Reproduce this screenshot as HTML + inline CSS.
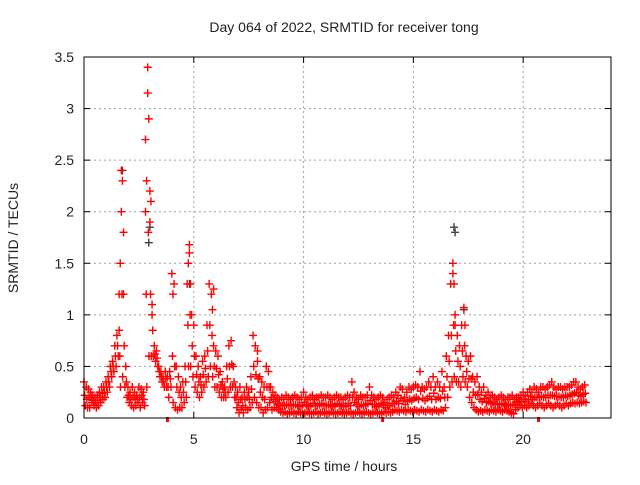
<!DOCTYPE html>
<html><head><meta charset="utf-8"><style>
body{margin:0;background:#fff;font-family:"Liberation Sans",sans-serif}
svg text{font-family:"Liberation Sans",sans-serif;font-size:14px;fill:#222}
</style></head><body>
<svg id="c" width="640" height="480">
<text x="344" y="32" text-anchor="middle">Day 064 of 2022, SRMTID for receiver tong</text>
<text x="344" y="471" text-anchor="middle">GPS time / hours</text>
<text transform="translate(18,238) rotate(-90)" text-anchor="middle">SRMTID / TECUs</text>
<g id="grid"></g><g id="marks"></g><g id="axes"></g>
</svg>
<script>
const xTicks=[0,5,10,15,20];
const yTicks=[0,0.5,1,1.5,2,2.5,3,3.5];
const yTickLabels=["0","0.5","1","1.5","2","2.5","3","3.5"];
const t0=0, dt=0.1;
const hiVals=[0.35,0.3,0.28,0.25,0.22,0.2,0.22,0.25,0.3,0.3,
0.35,0.4,0.5,0.55,0.7,0.8,0.85,2.4,1.2,0.5,
0.3,0.25,0.3,0.25,0.22,0.3,0.28,0.25,2.7,3.4,
2.2,1.1,0.7,0.65,0.5,0.45,0.4,0.45,0.4,0.45,
1.4,1.3,0.5,0.4,0.3,0.35,0.5,1.3,1.68,1.0,
0.9,0.6,0.5,0.4,0.55,0.6,0.9,1.3,1.2,0.7,
0.65,0.6,0.45,0.35,0.3,0.5,0.7,0.75,0.5,0.3,
0.25,0.3,0.2,0.25,0.3,0.25,0.4,0.8,0.7,0.65,
0.4,0.35,0.3,0.5,0.45,0.3,0.25,0.22,0.2,0.18,
0.2,0.18,0.22,0.2,0.18,0.2,0.22,0.2,0.18,0.2,
0.25,0.2,0.18,0.2,0.22,0.18,0.2,0.2,0.22,0.2,
0.2,0.22,0.2,0.18,0.2,0.22,0.2,0.2,0.18,0.2,
0.22,0.2,0.35,0.25,0.2,0.18,0.22,0.2,0.2,0.22,
0.3,0.22,0.2,0.18,0.2,0.22,0.2,0.15,0.18,0.2,
0.22,0.2,0.25,0.22,0.3,0.28,0.2,0.25,0.3,0.28,
0.3,0.32,0.3,0.45,0.3,0.28,0.3,0.35,0.3,0.4,
0.3,0.35,0.3,0.45,0.3,0.6,0.8,1.3,1.5,1.0,
0.8,0.7,0.9,1.07,0.6,0.55,0.6,0.4,0.35,0.4,
0.3,0.25,0.3,0.22,0.25,0.2,0.22,0.2,0.18,0.2,
0.22,0.2,0.18,0.2,0.2,0.22,0.18,0.2,0.2,0.22,
0.25,0.22,0.25,0.28,0.25,0.3,0.28,0.25,0.3,0.3,
0.28,0.3,0.32,0.35,0.3,0.28,0.3,0.3,0.28,0.3,
0.3,0.3,0.32,0.35,0.35,0.3,0.28,0.3,0.32];
const midVals=[0.22,0.18,0.2,0.2,0.17,0.15,0.17,0.2,0.24,0.25,
0.3,0.35,0.45,0.5,0.6,0.7,0.6,1.2,0.7,0.35,
0.22,0.18,0.2,0.18,0.18,0.2,0.22,0.18,1.2,1.8,
1.2,0.85,0.62,0.58,0.45,0.4,0.35,0.38,0.3,0.38,
0.6,0.5,0.3,0.25,0.2,0.25,0.35,0.9,1.0,0.7,
0.6,0.42,0.35,0.32,0.42,0.48,0.65,0.9,0.8,0.5,
0.48,0.42,0.32,0.28,0.25,0.38,0.5,0.52,0.35,0.2,
0.15,0.18,0.12,0.18,0.2,0.18,0.28,0.5,0.42,0.38,
0.25,0.2,0.18,0.3,0.3,0.2,0.18,0.16,0.14,0.12,
0.12,0.12,0.13,0.12,0.12,0.13,0.13,0.12,0.11,0.12,
0.15,0.13,0.11,0.12,0.14,0.12,0.12,0.13,0.14,0.12,
0.12,0.13,0.13,0.11,0.12,0.14,0.13,0.12,0.11,0.12,
0.14,0.12,0.2,0.15,0.13,0.11,0.13,0.12,0.13,0.14,
0.17,0.13,0.13,0.11,0.12,0.14,0.13,0.1,0.12,0.12,
0.14,0.14,0.16,0.14,0.19,0.17,0.13,0.16,0.18,0.17,
0.19,0.2,0.18,0.26,0.19,0.17,0.19,0.21,0.18,0.24,
0.18,0.2,0.19,0.26,0.2,0.4,0.55,0.8,0.9,0.65,
0.55,0.5,0.65,0.7,0.45,0.38,0.38,0.25,0.22,0.23,
0.18,0.16,0.19,0.15,0.16,0.14,0.15,0.13,0.13,0.13,
0.14,0.14,0.12,0.13,0.12,0.13,0.13,0.15,0.16,0.16,
0.18,0.16,0.18,0.21,0.18,0.2,0.2,0.2,0.21,0.2,
0.2,0.22,0.22,0.22,0.21,0.21,0.21,0.2,0.2,0.22,
0.21,0.22,0.23,0.24,0.25,0.22,0.21,0.23,0.24];
const loVals=[0.12,0.1,0.1,0.15,0.12,0.1,0.12,0.15,0.18,0.2,
0.25,0.3,0.4,0.45,0.5,0.6,0.3,0.4,0.3,0.2,
0.15,0.12,0.1,0.12,0.15,0.1,0.15,0.12,0.3,0.6,
0.6,0.6,0.55,0.5,0.4,0.35,0.3,0.3,0.2,0.3,
0.15,0.1,0.08,0.1,0.1,0.15,0.2,0.5,0.5,0.4,
0.3,0.25,0.2,0.25,0.3,0.35,0.4,0.5,0.4,0.3,
0.3,0.25,0.2,0.2,0.2,0.25,0.3,0.3,0.2,0.1,
0.05,0.08,0.05,0.1,0.08,0.1,0.15,0.2,0.15,0.1,
0.1,0.05,0.08,0.1,0.15,0.08,0.1,0.1,0.08,0.06,
0.05,0.06,0.04,0.05,0.06,0.05,0.04,0.06,0.05,0.04,
0.05,0.06,0.05,0.04,0.05,0.06,0.04,0.05,0.06,0.05,
0.04,0.05,0.06,0.05,0.04,0.05,0.06,0.05,0.04,0.05,
0.06,0.05,0.04,0.05,0.06,0.05,0.04,0.05,0.06,0.05,
0.04,0.05,0.06,0.05,0.04,0.05,0.06,0.05,0.06,0.05,
0.06,0.08,0.07,0.06,0.08,0.07,0.06,0.08,0.07,0.06,
0.08,0.07,0.06,0.08,0.07,0.06,0.08,0.07,0.06,0.08,
0.07,0.06,0.08,0.07,0.1,0.2,0.3,0.35,0.4,0.35,
0.35,0.3,0.4,0.35,0.3,0.2,0.15,0.1,0.08,0.06,
0.07,0.06,0.08,0.07,0.06,0.08,0.07,0.06,0.08,0.07,
0.06,0.08,0.07,0.06,0.05,0.04,0.08,0.1,0.12,0.1,
0.12,0.1,0.12,0.14,0.12,0.1,0.12,0.14,0.12,0.1,
0.12,0.14,0.12,0.1,0.12,0.14,0.12,0.1,0.12,0.14,
0.12,0.14,0.15,0.14,0.15,0.14,0.15,0.16,0.15];
const spikeT=[1.65,1.7,1.75,1.8,2.85,2.9,2.95,3.0,3.05,4.05,4.75,4.8,4.85,5.85,5.9,7.9,16.8,16.85,16.9,17.35,1.6,2.8,3.1];
const spikeV=[1.5,2.0,2.3,1.8,2.3,3.15,2.9,1.9,2.1,1.2,1.5,1.6,1.3,1.05,1.25,0.55,1.4,1.3,0.9,0.9,1.2,2.0,1.0];
const greyT=[1.75,2.95,3.0,4.8,16.85,16.9,17.3];
const greyV=[2.4,1.7,1.85,1.3,1.85,1.8,1.05];
const markerT=[3.8,13.6,20.7];
const X0=84,X1=611,Y0=418,Y1=57;
const sx=t=>X0+(t-0)/(24-0)*(X1-X0);
const sy=v=>Y0-(v-0)/(3.5-0)*(Y0-Y1);
const NS="http://www.w3.org/2000/svg";
function mk(tag,par,at){const e=document.createElementNS(NS,tag);for(const k in at)e.setAttribute(k,at[k]);par.appendChild(e);return e;}
const grid=document.getElementById('grid'),marks=document.getElementById('marks'),axes=document.getElementById('axes');
xTicks.forEach((t,i)=>{
 if(t>0){const g=mk('line',grid,{x1:sx(t),x2:sx(t),y1:Y0,y2:Y1,stroke:'#a0a0a0','stroke-dasharray':'2,3'});
 
 }
 const tk=mk('line',axes,{x1:sx(t),x2:sx(t),y1:Y0,y2:Y0-6,stroke:'#000'});
 
 
 mk('line',axes,{x1:sx(t),x2:sx(t),y1:Y1,y2:Y1+6,stroke:'#000'});
 const tx=mk('text',axes,{x:sx(t),y:Y0+26,'text-anchor':'middle'});tx.textContent=String(t);
 
 
});
yTicks.forEach((v,i)=>{
 if(v>0&&v<3.5){const g=mk('line',grid,{x1:X0,x2:X1,y1:sy(v),y2:sy(v),stroke:'#a0a0a0','stroke-dasharray':'2,3'});
 
 }
 mk('line',axes,{x1:X0,x2:X0+6,y1:sy(v),y2:sy(v),stroke:'#000'});
 mk('line',axes,{x1:X1,x2:X1-6,y1:sy(v),y2:sy(v),stroke:'#000'});
 const tx=mk('text',axes,{x:X0-10,y:sy(v)+5,'text-anchor':'end'});tx.textContent=yTickLabels[i];
 
 
});
const fr=mk('rect',axes,{x:X0,y:Y1,width:X1-X0,height:Y0-Y1,fill:'none',stroke:'#000'});


function cross(t,v,col,name){const x=sx(t),y=sy(v);
 const p=mk('path',marks,{d:`M${x-4},${y}h8M${x},${y-4}v8`,stroke:col,'stroke-width':1.4});
 
 }
greyT.forEach((t,i)=>cross(t,greyV[i],'#404040','grey-point'));
hiVals.forEach((v,i)=>{const t=t0+i*dt;
 cross(t,v,'#ff0000','srmtid-point');
 cross(t+0.03,midVals[i],'#ff0000','srmtid-point');
 cross(t+0.06,loVals[i],'#ff0000','srmtid-point');});
spikeT.forEach((t,i)=>cross(t,spikeV[i],'#ff0000','srmtid-point'));
markerT.forEach(t=>{const r=mk('rect',marks,{x:sx(t)-1.5,y:Y0-1,width:3,height:5,fill:'#ff0000'});
 
 });
</script>
</body></html>
